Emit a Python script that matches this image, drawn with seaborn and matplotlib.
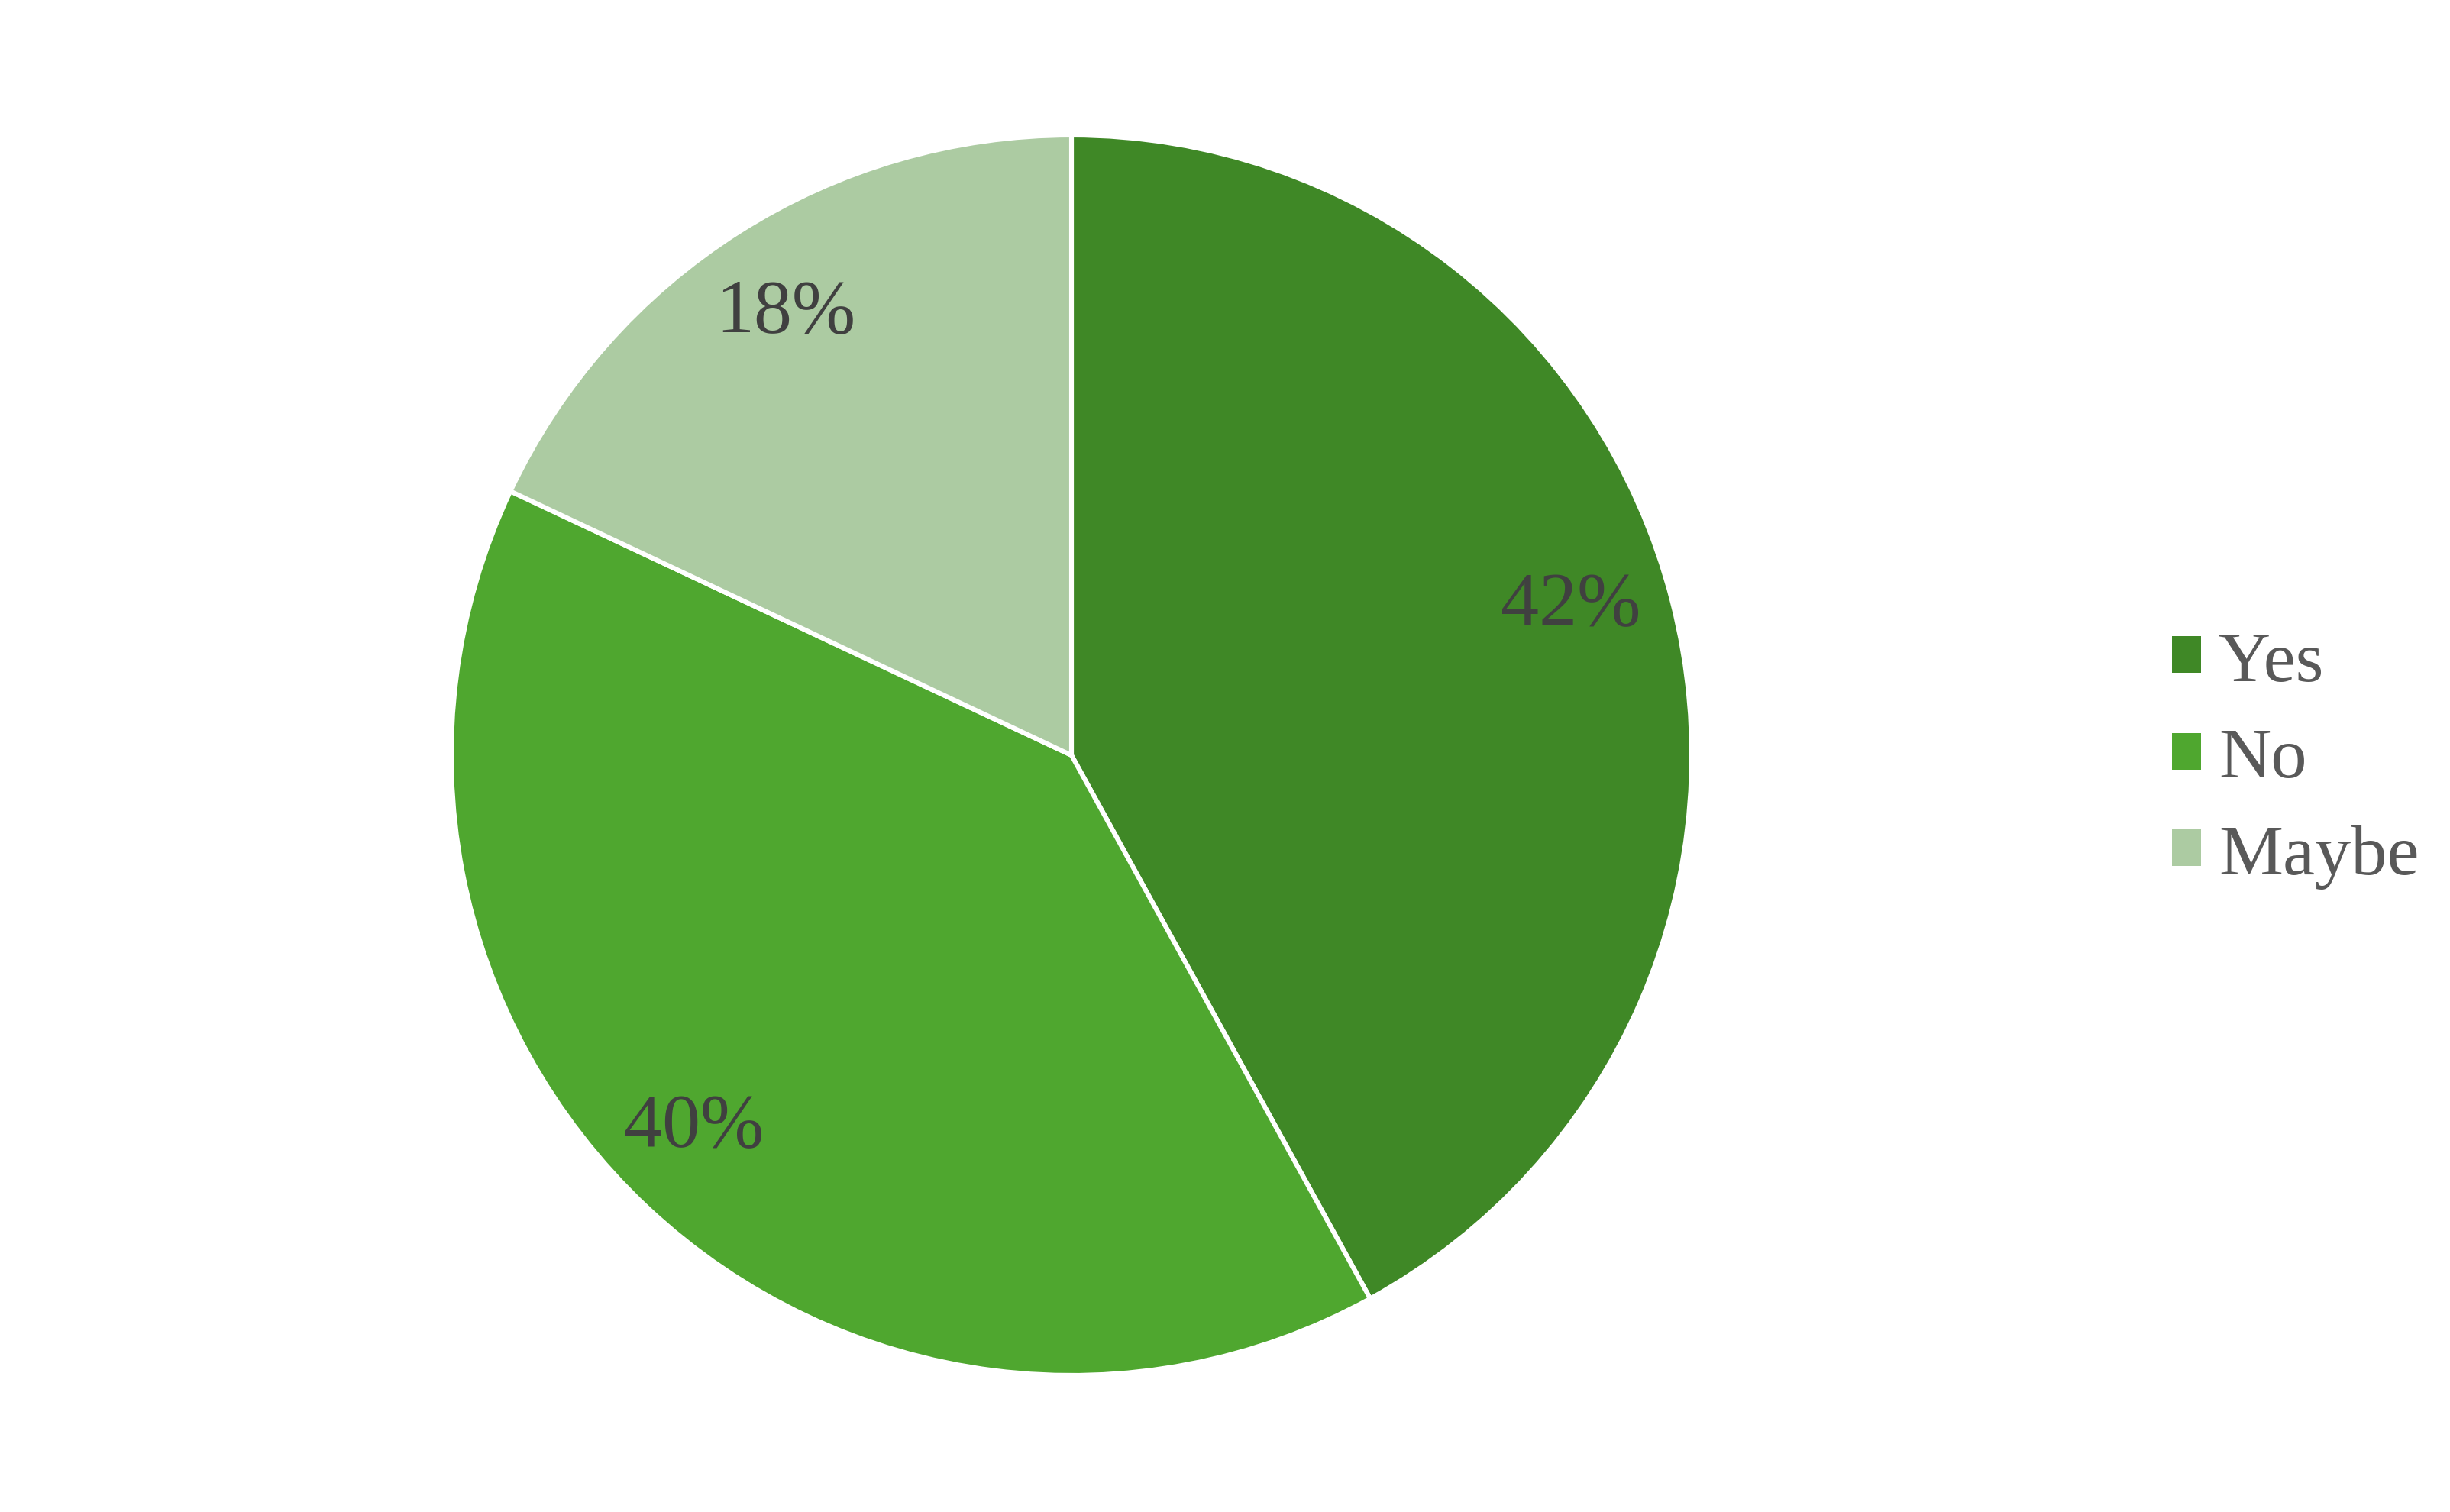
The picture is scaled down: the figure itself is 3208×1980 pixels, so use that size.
import matplotlib
matplotlib.use("Agg")
import matplotlib.pyplot as plt
import seaborn as sns
import numpy as np
from matplotlib.patches import Patch

categories = ["Yes", "No", "Maybe"]
values = [42, 40, 18]
colors = ["#3F8826", "#4FA72F", "#ACCBA2"]

sns.set_theme(style="white")
plt.rcParams['font.family'] = ['Liberation Serif', 'DejaVu Serif']

W, H, DPI = 3208, 1981, 200
fig = plt.figure(figsize=(W / DPI, H / DPI), dpi=DPI)
cx, cy, r = 1403, 990, 812
ax = fig.add_axes([(cx - r) / W, (H - cy - r) / H, 2 * r / W, 2 * r / H])

wedges, texts, autotexts = ax.pie(
    values, colors=colors, startangle=90, counterclock=False,
    autopct=lambda p: f"{p:.0f}%", pctdistance=0.85,
    wedgeprops=dict(edgecolor="white", linewidth=2.2),
    textprops=dict(fontsize=36, color="#404040"))
# small angular nudge of the labels, as placed in the original
label_shift = [2.3, -2.2, 0.4]
label_dist = [0.84, 0.855, 0.85]
for w, t, s, d in zip(wedges, autotexts, label_shift, label_dist):
    th = np.deg2rad((w.theta1 + w.theta2) / 2 + s)
    t.set_position((d * np.cos(th), d * np.sin(th)))
ax.set_xlim(-1, 1)
ax.set_ylim(-1, 1)
ax.set_aspect("equal")
ax.axis("off")

handles = [Patch(facecolor=c, edgecolor="none") for c in colors]
leg = fig.legend(handles, categories, loc="center left",
                 bbox_to_anchor=(2844 / W, 1 - 996 / H), frameon=False,
                 fontsize=34, handlelength=0.4, handleheight=0.4,
                 handletextpad=0.25, labelspacing=0.44, borderpad=0,
                 borderaxespad=0)
for t in leg.get_texts():
    t.set_color("#595959")

fig.savefig("out.png", dpi=DPI, facecolor="white")
